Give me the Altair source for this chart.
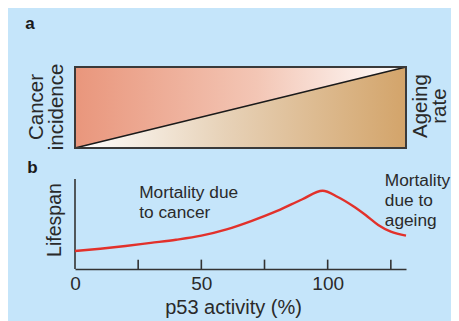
import altair as alt
import pandas as pd

# ---- Panel b: lifespan vs p53 activity ----
p53_activity = [0, 10, 20, 30, 40, 50, 60, 70, 80, 90, 98, 104, 110, 115, 120, 125, 131]
lifespan = [0.20, 0.225, 0.255, 0.29, 0.325, 0.37, 0.44, 0.535, 0.645, 0.775, 0.87, 0.80, 0.70, 0.60, 0.49, 0.415, 0.37]

tick_values = [25, 50, 75, 100, 125]
label_values = [0, 50, 100]

# ---- Panel a: trade-off box (y in same units as panel b, stacked above it) ----
panel_a_x = [0, 131]
panel_a_diag = [1.344, 2.244]
panel_a_bottom = 1.344
panel_a_top = 2.244

X_DOMAIN = [0, 131]
Y_DOMAIN = [0, 2.244]

FONT = "Liberation Sans"
TXT = "#2a2a2a"

xs = alt.Scale(domain=X_DOMAIN, nice=False, zero=False)
ys = alt.Scale(domain=Y_DOMAIN, nice=False, zero=False)
x_axis = alt.Axis(
    values=label_values, ticks=False, grid=False, domain=True,
    domainColor="#333333", domainWidth=1.6, labelFlush=False,
    labelFont=FONT, labelFontSize=19, labelColor=TXT, labelPadding=5,
    title="p53 activity (%)", titleFont=FONT, titleFontSize=20,
    titleFontWeight="normal", titleColor=TXT,
    titleX=158, titleY=44, titleBaseline="alphabetic",
)


def X(field):
    return alt.X(field, type="quantitative", scale=xs, axis=x_axis)


def Y(field):
    return alt.Y(field, type="quantitative", scale=ys, axis=None)


df_a = pd.DataFrame({
    "x": panel_a_x,
    "diag": panel_a_diag,
    "top": [panel_a_top] * 2,
    "bottom": [panel_a_bottom] * 2,
})

salmon = alt.Gradient(
    gradient="linear", x1=0, x2=1, y1=0, y2=0,
    stops=[alt.GradientStop(color="#E9967C", offset=0),
           alt.GradientStop(color="#F3C6B5", offset=0.55),
           alt.GradientStop(color="#FFFFFF", offset=1)],
)
tan = alt.Gradient(
    gradient="linear", x1=0, x2=1, y1=0, y2=0,
    stops=[alt.GradientStop(color="#FFFFFF", offset=0),
           alt.GradientStop(color="#E7D2B8", offset=0.45),
           alt.GradientStop(color="#D3A46A", offset=1)],
)

upper = alt.Chart(df_a).mark_area(color=salmon).encode(x=X("x"), y=Y("diag"), y2="top")
lower = alt.Chart(df_a).mark_area(color=tan).encode(x=X("x"), y=Y("bottom"), y2="diag")
diag = alt.Chart(df_a).mark_line(color="#1a1a1a", strokeWidth=1.6).encode(x=X("x"), y=Y("diag"))

df_box = pd.DataFrame({"x0": [panel_a_x[0]], "x1": [panel_a_x[1]],
                       "y0": [panel_a_bottom], "y1": [panel_a_top]})
box = alt.Chart(df_box).mark_rect(filled=False, stroke="#3a3a3a", strokeWidth=2).encode(
    x=X("x0"), x2="x1", y=Y("y0"), y2="y1")

# y axis line of panel b
df_yax = pd.DataFrame({"x": [0], "y0": [0], "y1": [1.0]})
yaxis = alt.Chart(df_yax).mark_rule(color="#333333", strokeWidth=1.6).encode(
    x=X("x"), y=Y("y0"), y2="y1")

# inward ticks
df_ticks = pd.DataFrame({"x": tick_values, "y0": [0] * len(tick_values),
                         "y1": [0.104] * len(tick_values)})
ticks = alt.Chart(df_ticks).mark_rule(color="#333333", strokeWidth=1.6).encode(
    x=X("x"), y=Y("y0"), y2="y1")

df_b = pd.DataFrame({"p53": p53_activity, "life": lifespan})
curve = alt.Chart(df_b).mark_line(color="#E2312B", strokeWidth=2.4, interpolate="monotone").encode(
    x=X("p53"), y=Y("life"))

# annotations
ann_text = ["Mortality due\nto cancer", "Mortality\ndue to\nageing"]
ann_x = [25.4, 122.6]
ann_y = [0.792, 0.922]
df_ann = pd.DataFrame({"t": ann_text, "x": ann_x, "y": ann_y})
ann = alt.Chart(df_ann).mark_text(
    align="left", baseline="alphabetic", font=FONT, fontSize=17.3, color=TXT,
    lineBreak="\n", lineHeight=20).encode(x=X("x"), y=Y("y"), text="t:N")

rot_text = ["Cancer\nincidence", "Ageing\nrate", "Lifespan"]
rot_x = [-15.2, 136.8, -7.8]
rot_y = [1.80, 1.81, 0.544]
rot_size = [20.5, 20.5, 19.5]
rot_lh = [20.5, 19, 20]
df_rot = pd.DataFrame({"t": rot_text, "x": rot_x, "y": rot_y, "s": rot_size})
rot_layers = []
for i in range(len(rot_text)):
    rot_layers.append(
        alt.Chart(df_rot.iloc[[i]]).mark_text(
            align="center", baseline="middle", angle=270, font=FONT, color=TXT,
            fontSize=rot_size[i], lineBreak="\n", lineHeight=rot_lh[i]).encode(
            x=X("x"), y=Y("y"), text="t:N")
    )

panel_labels = ["a", "b"]
pl_x = [-17.8, -16.8]
pl_y = [2.72, 1.117]
df_pl = pd.DataFrame({"t": panel_labels, "x": pl_x, "y": pl_y})
pl = alt.Chart(df_pl).mark_text(
    align="center", baseline="middle", font=FONT, fontSize=17, fontWeight="bold", color="#1a1a1a"
).encode(x=X("x"), y=Y("y"), text="t:N")

chart = alt.layer(upper, lower, diag, box, yaxis, ticks, curve, ann, *rot_layers, pl).properties(
    width=331, height=202,
    autosize=alt.AutoSizeParams(type="none"),
    padding={"left": 67, "top": 59, "right": 45, "bottom": 52},
    background="#C5E5FA",
).configure_view(strokeWidth=0)

chart.save("out.html", embed_options={"renderer": "svg", "actions": False})
